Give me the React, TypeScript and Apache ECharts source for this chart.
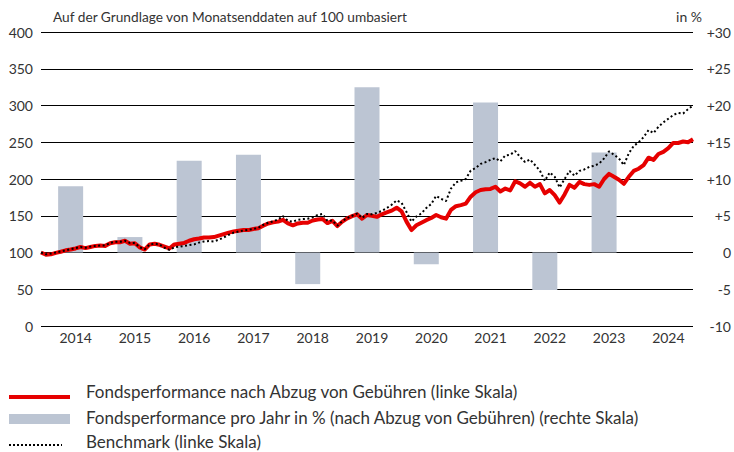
import React, { useEffect, useRef } from "react";
import * as echarts from "echarts";

const years = ["2014", "2015", "2016", "2017", "2018", "2019", "2020", "2021", "2022", "2023", "2024"];
const annualPerf: (number | null)[] = [9.0, 2.1, 12.5, 13.3, -4.3, 22.5, -1.6, 20.4, -5.1, 13.6, null];

// Monthly end values, Dec 2013 = 100 (index = months since Dec 2013)
const fundValues = [
  100, 97, 97.5, 99.5, 101, 103, 104, 105.5, 107.5, 106, 107.5, 109,
  109.5, 109, 112.5, 114, 114, 116, 112, 112.5, 107, 104, 111, 112,
  110.5, 108, 105.5, 111, 112, 113, 116, 118, 119, 120.5, 120.5, 121,
  123, 125, 127, 128.5, 129.5, 130.5, 130.5, 132, 133, 136.5, 139.5, 141,
  142, 144.5, 139.5, 137, 139.5, 140.5, 140.5, 143.5, 145, 145.5, 140, 143,
  136, 142, 146.5, 149.5, 152, 146, 151, 150, 148.5, 152, 154.5, 157,
  161, 156, 142, 130.5, 137, 140.5, 144, 147, 151, 148, 146, 158,
  163, 164.5, 166.5, 176, 182, 185, 186, 186.5, 189.5, 183, 187, 184.5,
  197, 194, 189.5, 195, 189.5, 193, 180.5, 185, 178, 168, 179, 192,
  188, 196, 193, 192, 193, 189.5, 200, 207, 203, 199, 193.5, 203,
  211, 214, 219, 229, 226, 234, 237, 242, 249, 249, 251, 250,
  254,
];
const benchmarkValues = [
  100, 97.5, 98.5, 100, 101.5, 103, 104.5, 106, 107.5, 106.5, 108, 109,
  109.5, 109.5, 113, 114.5, 114.5, 116, 113, 113, 107, 104.5, 111, 112,
  111, 106.5, 103.5, 107, 108, 109, 110, 111, 113.5, 115, 115.5, 115,
  117.5, 120.5, 124, 127, 128.5, 130, 131, 132, 133.5, 137.5, 140.5, 142.5,
  145, 149.5, 143, 142, 144.5, 145.5, 146, 148, 151, 152.5, 143, 143.5,
  136.5, 142.5, 147, 150, 153, 147, 152.5, 152, 154, 156.5, 160.5, 165,
  171, 167.5, 155, 142, 149, 153, 160.5, 166, 177, 173, 170, 187,
  195.5, 197.5, 200, 211.5, 215, 220.5, 223, 226, 228.5, 224, 232, 233,
  238, 230, 223, 226.5, 219, 211.5, 197.5, 209, 203, 188.5, 200, 211,
  204.5, 211, 213, 216.5, 218, 221, 228, 237.5, 233, 228, 219, 235,
  245, 250, 257, 266.5, 262.5, 271, 277, 282, 287, 290, 289, 295,
  300,
];

const leftTicks = { min: 0, max: 400, interval: 50 };
const rightTicks = { min: -10, max: 30, interval: 5 };

const titleText = "Auf der Grundlage von Monatsenddaten auf 100 umbasiert";
const unitText = "in %";
const legendLabels = [
  "Fondsperformance nach Abzug von Gebühren (linke Skala)",
  "Fondsperformance pro Jahr in % (nach Abzug von Gebühren) (rechte Skala)",
  "Benchmark (linke Skala)",
];

const FONT = "Lato, 'Open Sans', sans-serif";
const RED = "#e60000";
const BAR = "#bcc5d3";
const TXT = "#333333";

export default function App() {
  const ref = useRef<HTMLDivElement>(null);
  useEffect(() => {
    if (!ref.current) return;
    const chart = echarts.init(ref.current, undefined, { renderer: "svg" });
    const fundData = fundValues.map((v, i) => [i, v]);
    const benchData = benchmarkValues.map((v, i) => [i, v]);
    chart.setOption({
      animation: false,
      textStyle: { fontFamily: FONT },
      grid: { left: 41, right: 37, top: 32, bottom: 126, containLabel: false },
      xAxis: [
        {
          type: "category",
          data: years,
          gridIndex: 0,
          axisLine: { show: false },
          axisTick: { show: false },
          axisLabel: { color: TXT, fontSize: 14, fontFamily: FONT, margin: 4, padding: [0, 0, 0, 10] },
          splitLine: { show: false },
        },
        {
          type: "value",
          min: 0,
          max: 132,
          gridIndex: 0,
          show: false,
        },
      ],
      yAxis: [
        {
          type: "value",
          position: "left",
          min: leftTicks.min,
          max: leftTicks.max,
          interval: leftTicks.interval,
          axisLine: { show: false },
          axisTick: { show: false },
          axisLabel: { color: TXT, fontSize: 14, fontFamily: FONT, margin: 8 },
          splitLine: { show: true, lineStyle: { color: "#000", width: 1 } },
        },
        {
          type: "value",
          position: "right",
          min: rightTicks.min,
          max: rightTicks.max,
          interval: rightTicks.interval,
          axisLine: { show: false },
          axisTick: { show: false },
          axisLabel: {
            color: TXT,
            fontSize: 14,
            fontFamily: FONT,
            align: "right",
            margin: 38,
            formatter: (v: number) => (v > 0 ? "+" + v : String(v)),
          },
          splitLine: { show: false },
        },
      ],
      series: [
        {
          name: legendLabels[1],
          type: "bar",
          xAxisIndex: 0,
          yAxisIndex: 1,
          data: annualPerf,
          barWidth: 25,
          itemStyle: { color: BAR },
          z: 1,
        },
        {
          name: legendLabels[0],
          type: "line",
          xAxisIndex: 1,
          yAxisIndex: 0,
          data: fundData,
          showSymbol: false,
          symbol: "none",
          lineStyle: { color: RED, width: 4, join: "round" },
          itemStyle: { color: RED },
          z: 3,
        },
        {
          name: legendLabels[2],
          type: "line",
          xAxisIndex: 1,
          yAxisIndex: 0,
          data: benchData,
          showSymbol: false,
          symbol: "none",
          lineStyle: { color: "#000", width: 2, type: [2, 2.5] },
          itemStyle: { color: "#000" },
          z: 4,
        },
      ],
      graphic: [
        {
          type: "text",
          left: 53,
          top: 9,
          style: { text: titleText, fill: TXT, font: `13.7px ${FONT}` },
        },
        {
          type: "text",
          right: 32,
          top: 9,
          style: { text: unitText, fill: TXT, font: `14px ${FONT}` },
        },
        {
          type: "line",
          shape: { x1: 9, y1: 397, x2: 70, y2: 397 },
          style: { stroke: RED, lineWidth: 4 },
        },
        {
          type: "rect",
          shape: { x: 9, y: 414, width: 61, height: 10 },
          style: { fill: BAR },
        },
        {
          type: "line",
          shape: { x1: 9, y1: 445, x2: 62, y2: 445 },
          style: { stroke: "#000", lineWidth: 2, lineDash: [2, 2] },
        },
        {
          type: "text",
          x: 86,
          y: 391,
          style: { text: legendLabels[0], fill: TXT, font: `17px ${FONT}`, textVerticalAlign: "middle" },
        },
        {
          type: "text",
          x: 86,
          y: 417,
          style: { text: legendLabels[1], fill: TXT, font: `17px ${FONT}`, textVerticalAlign: "middle" },
        },
        {
          type: "text",
          x: 86,
          y: 441,
          style: { text: legendLabels[2], fill: TXT, font: `17px ${FONT}`, textVerticalAlign: "middle" },
        },
      ],
    });
    return () => chart.dispose();
  }, []);
  return (
    <div
      ref={ref}
      style={{ position: "fixed", left: 0, top: 0, width: 734, height: 452, background: "#fff" }}
    />
  );
}
